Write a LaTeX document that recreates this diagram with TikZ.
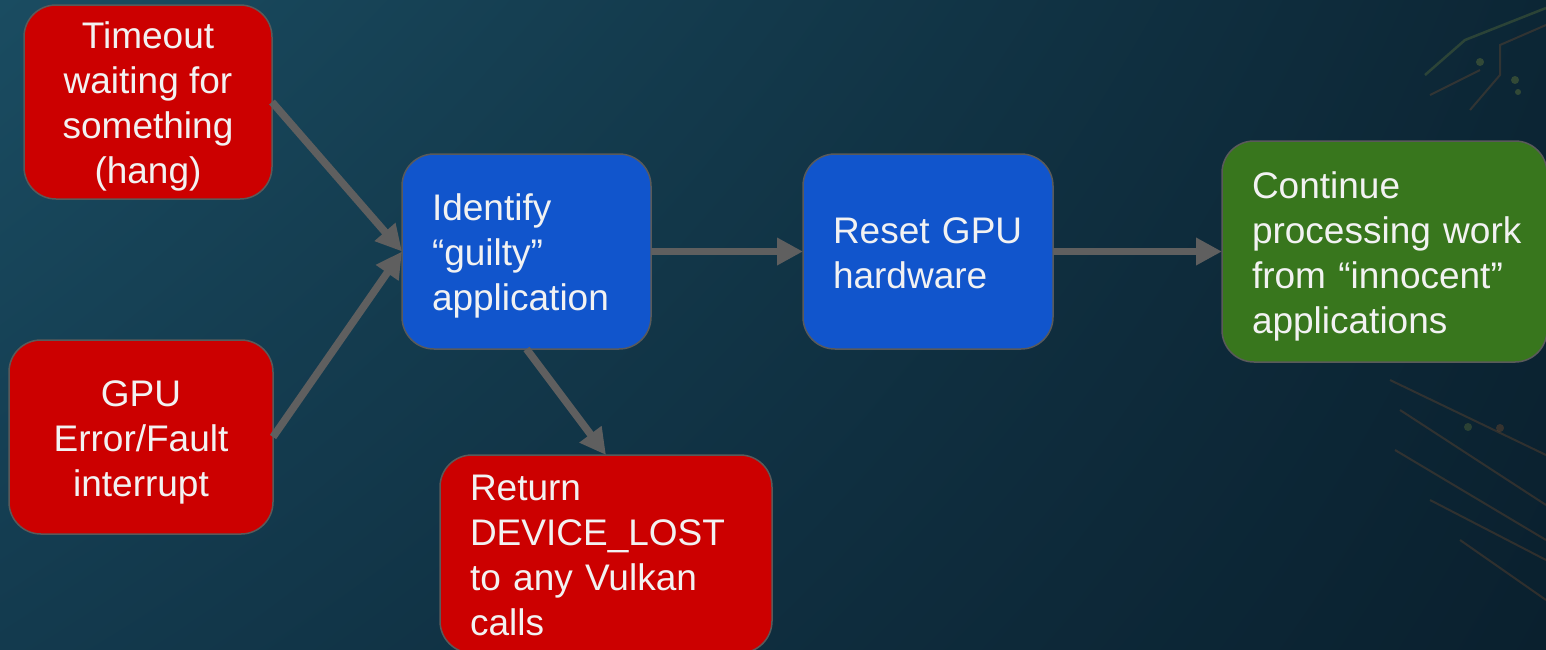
\documentclass[tikz,border=0pt]{standalone}
\usepackage{fontspec}
\setmainfont{Liberation Sans}
\usetikzlibrary{arrows.meta,shadings}
\definecolor{bgUL}{HTML}{1A4C61}
\definecolor{bgUR}{HTML}{0C2635}
\definecolor{bgLL}{HTML}{133A4E}
\definecolor{bgLR}{HTML}{0A202E}
\definecolor{redfill}{HTML}{CC0000}
\definecolor{bluefill}{HTML}{1155CC}
\definecolor{greenfill}{HTML}{38761D}
\definecolor{edgegray}{HTML}{5A5A5A}
\definecolor{arrowgray}{HTML}{5F5F5F}
\definecolor{textwhite}{HTML}{F2F2F2}
\definecolor{traceorange}{HTML}{B8642A}
\definecolor{tracegreen}{HTML}{8A9A3A}
\newcommand\firstln{\rule{0pt}{36pt}}
\newcommand\lastln{\rule[-8pt]{0pt}{8pt}}
\begin{document}
\begin{tikzpicture}[x=1pt,y=-1pt,
  box/.style={draw=edgegray, line width=1.5pt, rounded corners=32pt,
    text=textwhite, font=\fontsize{37}{45}\selectfont,
    inner xsep=30pt, inner ysep=0pt, outer sep=0pt},
  cbox/.style={box, align=center, inner xsep=0pt},
  lbox/.style={box, align=left},
  flow/.style={draw=arrowgray, line width=7.5pt,
    -{Triangle[length=26pt,width=26pt]}},
  trace/.style={line width=2pt, draw=traceorange, opacity=0.22},
  gtrace/.style={line width=2.5pt, draw=tracegreen, opacity=0.25}]
\useasboundingbox (0,0) rectangle (1546,649);
% background
\shade[upper left=bgUL, upper right=bgUR, lower left=bgLL, lower right=bgLR]
  (0,0) rectangle (1546,649);
% decorative circuit traces on the right
\draw[gtrace] (1425,75) -- (1465,40) -- (1546,8);
\draw[trace] (1470,110) -- (1500,75) -- (1500,45) -- (1546,25);
\draw[trace] (1430,95) -- (1480,70);
\fill[tracegreen, opacity=0.3] (1480,62) circle (4pt) (1515,80) circle (4pt) (1518,92) circle (3pt);
\draw[trace] (1380,300) -- (1546,330);
\draw[trace] (1390,380) -- (1546,455);
\draw[trace] (1400,410) -- (1546,505);
\draw[trace] (1395,450) -- (1546,540);
\draw[trace] (1430,500) -- (1546,560);
\draw[trace] (1460,540) -- (1546,600);
\fill[traceorange, opacity=0.25] (1500,428) circle (4pt);
\fill[tracegreen, opacity=0.25] (1468,427) circle (4pt);
% nodes
\node[cbox, fill=redfill, minimum width=248pt, minimum height=194pt] (timeout) at (148,102)
  {\firstln Timeout\\waiting for\\something\\(hang)\lastln};
\node[cbox, fill=redfill, minimum width=264pt, minimum height=194pt] (fault) at (141,437)
  {\firstln GPU\\Error/Fault\\interrupt\lastln};
\node[lbox, fill=bluefill, text width=189pt, minimum height=195pt] (identify) at (526.5,251.5)
  {\firstln Identify\\“guilty”\\application\lastln};
\node[lbox, fill=bluefill, text width=190pt, minimum height=195pt] (reset) at (928,251.5)
  {\firstln\mbox{Reset GPU}\\hardware\lastln};
\node[lbox, fill=greenfill, text width=265pt, minimum height=221pt] (continue) at (1384.5,251.5)
  {\firstln Continue\\\mbox{processing work}\\\mbox{from “innocent”}\\applications\lastln};
\node[lbox, fill=redfill, text width=272pt, minimum height=198pt] (return) at (606,554)
  {\firstln Return\\\mbox{DEVICE\_LOST}\\\mbox{to any Vulkan}\\calls\lastln};
% connectors
\draw[flow] (timeout.east) -- (identify.west);
\draw[flow] (fault.east) -- (identify.west);
\draw[flow] (identify.east) -- (reset.west);
\draw[flow] (reset.east) -- (continue.west);
\draw[flow] (identify.south) -- (return.north);
\end{tikzpicture}
\end{document}
